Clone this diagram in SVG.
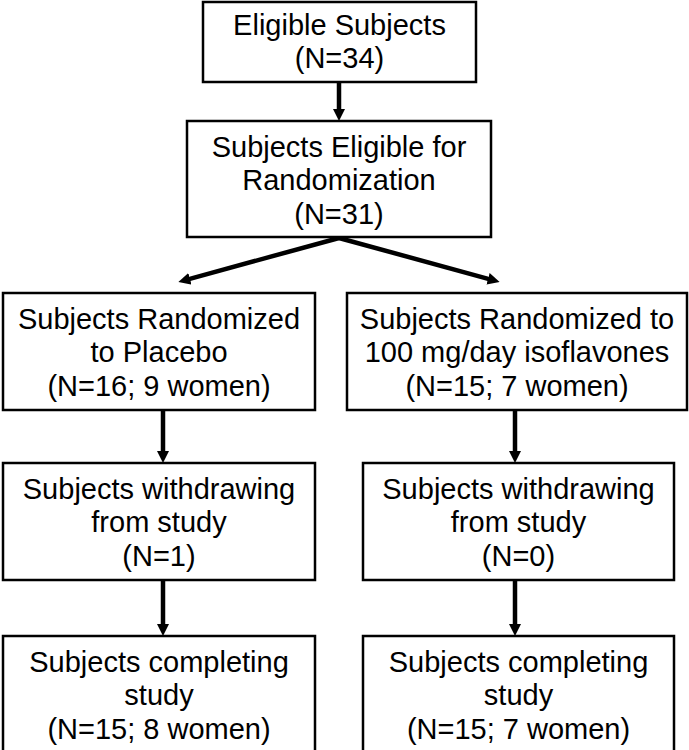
<svg xmlns="http://www.w3.org/2000/svg" width="689" height="750" viewBox="0 0 689 750">
<defs>
<style>
.box{fill:#fff;stroke:#000;stroke-width:2.5}
.t{font-family:"Liberation Sans",Arial,sans-serif;font-size:29px;fill:#000;text-anchor:middle}
.c{stroke:#000;stroke-width:4.5;fill:none}
</style>
<marker id="ah" viewBox="0 0 12 12" refX="2" refY="6" markerWidth="12" markerHeight="12" markerUnits="userSpaceOnUse" orient="auto">
<path d="M0,0 L12,6 L0,12 Z" fill="#000"/>
</marker>
</defs>
<rect width="689" height="750" fill="#fff"/>
<g id="connectors">
<line class="c" x1="339" y1="82" x2="339" y2="111" marker-end="url(#ah)"/>
<line class="c" x1="339" y1="238" x2="188" y2="279.3" marker-end="url(#ah)"/>
<line class="c" x1="339" y1="238" x2="490" y2="279.3" marker-end="url(#ah)"/>
<line class="c" x1="163" y1="410" x2="163" y2="453" marker-end="url(#ah)"/>
<line class="c" x1="515" y1="410" x2="515" y2="453" marker-end="url(#ah)"/>
<line class="c" x1="163" y1="580" x2="163" y2="626" marker-end="url(#ah)"/>
<line class="c" x1="515" y1="580" x2="515" y2="626" marker-end="url(#ah)"/>
</g>
<g id="n1">
<rect class="box" x="203" y="2" width="273" height="80"/>
<text class="t" x="339.5" y="35">Eligible Subjects</text>
<text class="t" x="339.5" y="68">(N=34)</text>
</g>
<g id="n2">
<rect class="box" x="187" y="121" width="304" height="116"/>
<text class="t" x="339" y="157">Subjects Eligible for</text>
<text class="t" x="339" y="190">Randomization</text>
<text class="t" x="339" y="224">(N=31)</text>
</g>
<g id="n3">
<rect class="box" x="3" y="293" width="312" height="117"/>
<text class="t" x="159" y="329">Subjects Randomized</text>
<text class="t" x="159" y="362">to Placebo</text>
<text class="t" x="159" y="396">(N=16; 9 women)</text>
</g>
<g id="n4">
<rect class="box" x="347" y="293" width="340" height="117"/>
<text class="t" x="517" y="329">Subjects Randomized to</text>
<text class="t" x="517" y="362">100 mg/day isoflavones</text>
<text class="t" x="517" y="396">(N=15; 7 women)</text>
</g>
<g id="n5">
<rect class="box" x="3" y="463" width="312" height="117"/>
<text class="t" x="159" y="499">Subjects withdrawing</text>
<text class="t" x="159" y="532">from study</text>
<text class="t" x="159" y="566">(N=1)</text>
</g>
<g id="n6">
<rect class="box" x="363" y="463" width="311" height="117"/>
<text class="t" x="518.5" y="499">Subjects withdrawing</text>
<text class="t" x="518.5" y="532">from study</text>
<text class="t" x="518.5" y="566">(N=0)</text>
</g>
<g id="n7">
<rect class="box" x="3" y="636" width="312" height="130"/>
<text class="t" x="159" y="672">Subjects completing</text>
<text class="t" x="159" y="705">study</text>
<text class="t" x="159" y="739">(N=15; 8 women)</text>
</g>
<g id="n8">
<rect class="box" x="363" y="636" width="311" height="130"/>
<text class="t" x="518.5" y="672">Subjects completing</text>
<text class="t" x="518.5" y="705">study</text>
<text class="t" x="518.5" y="739">(N=15; 7 women)</text>
</g>
</svg>
